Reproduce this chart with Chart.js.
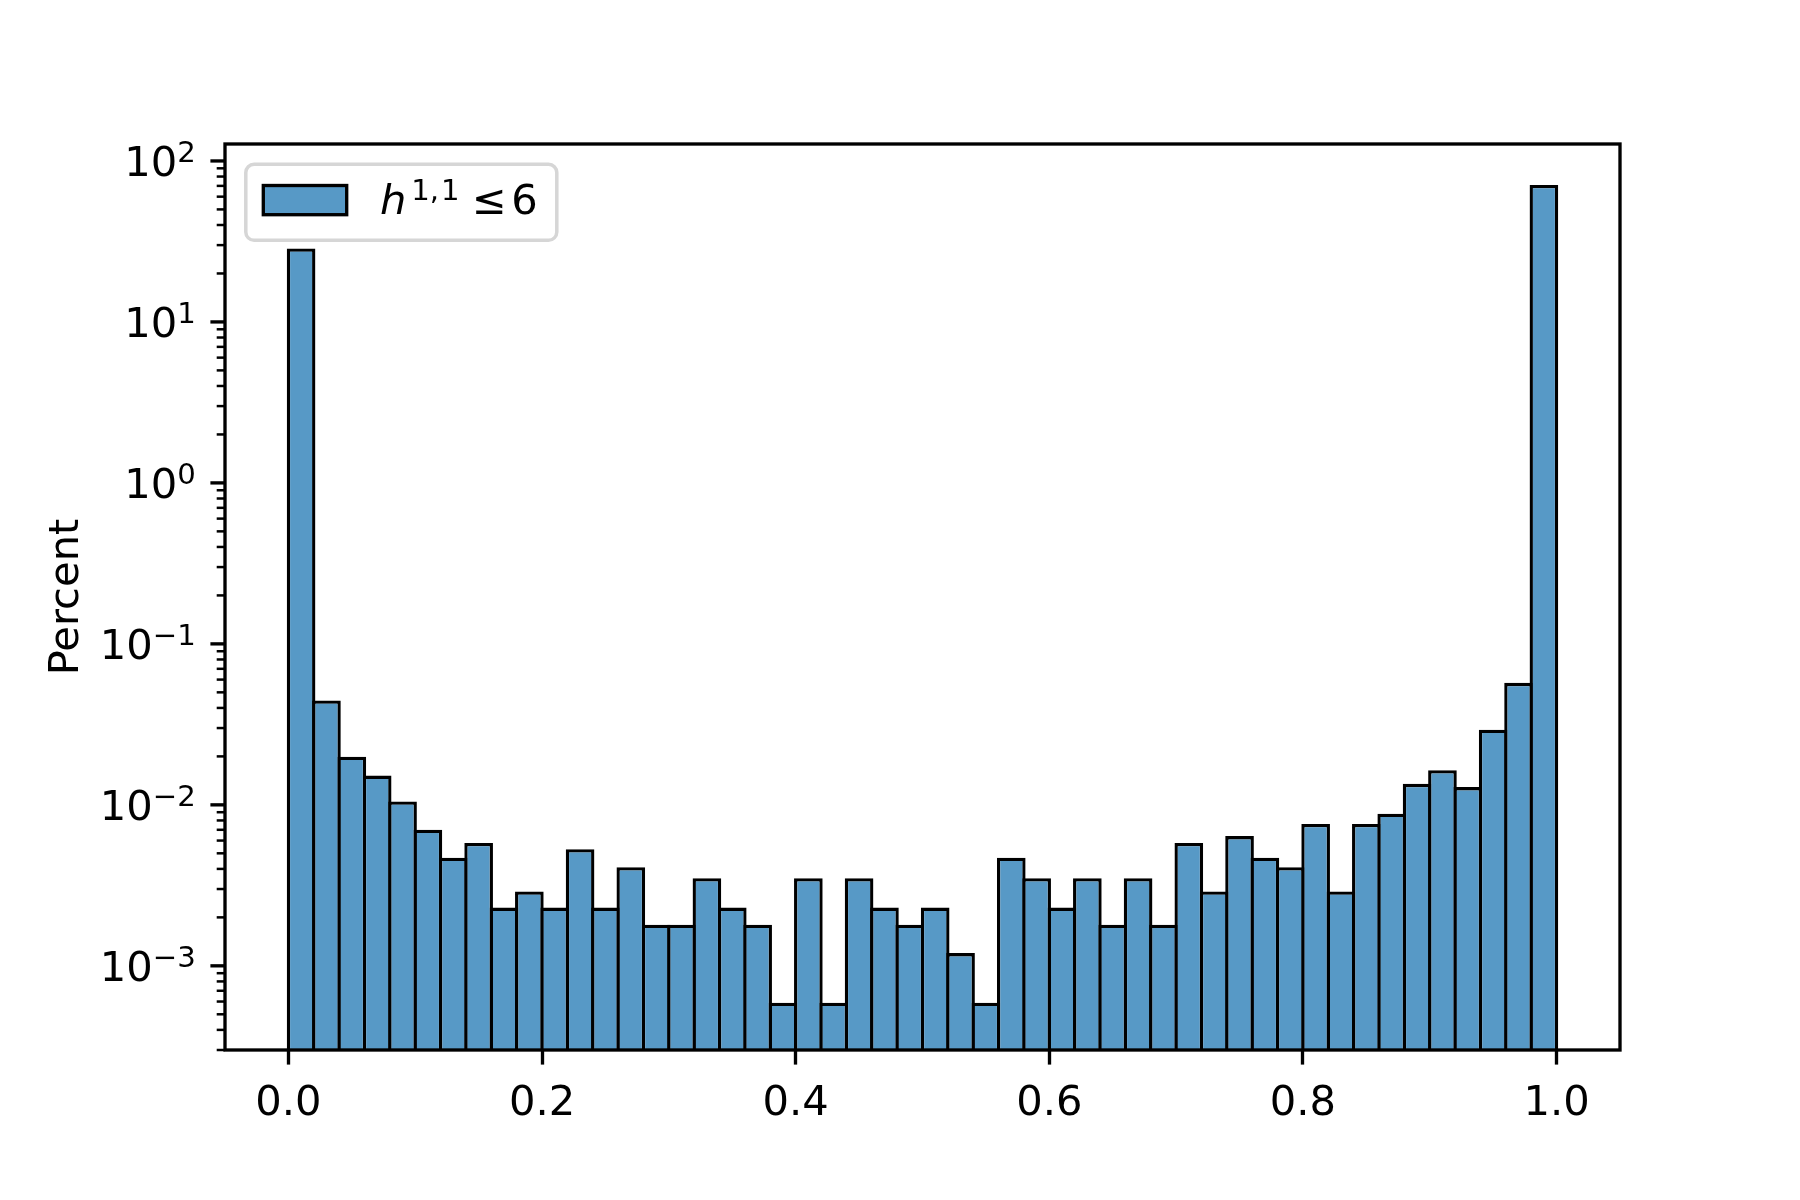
<!DOCTYPE html>
<html>
<head>
<meta charset="utf-8">
<script src="https://cdn.jsdelivr.net/npm/chart.js@4.4.1/dist/chart.umd.min.js"></script>
<style>
  html, body { margin: 0; padding: 0; background: #fff; }
  canvas { display: block; }
</style>
</head>
<body>
<canvas id="hist" width="1800" height="1200" style="width:1800px;height:1200px"></canvas>
<script>
// histogram bins (edges) and the percent in each bin
const binEdges = [
    0.00, 0.02, 0.04, 0.06, 0.08, 0.10, 0.12, 0.14, 0.16, 0.18,
    0.20, 0.22, 0.24, 0.26, 0.28, 0.30, 0.32, 0.34, 0.36, 0.38,
    0.40, 0.42, 0.44, 0.46, 0.48, 0.50, 0.52, 0.54, 0.56, 0.58,
    0.60, 0.62, 0.64, 0.66, 0.68, 0.70, 0.72, 0.74, 0.76, 0.78,
    0.80, 0.82, 0.84, 0.86, 0.88, 0.90, 0.92, 0.94, 0.96, 0.98, 1.00
];
const percentValues = [
    28.6, 0.0445, 0.0199, 0.0152, 0.0105, 0.0070, 0.0047, 0.0058, 0.0023, 0.0029,
    0.0023, 0.0053, 0.0023, 0.0041, 0.0018, 0.0018, 0.0035, 0.0023, 0.0018, 0.00059,
    0.0035, 0.00059, 0.0035, 0.0023, 0.0018, 0.0023, 0.0012, 0.00059, 0.0047, 0.0035,
    0.0023, 0.0035, 0.0018, 0.0035, 0.0018, 0.0058, 0.0029, 0.0064, 0.0047, 0.0041,
    0.0076, 0.0029, 0.0076, 0.0088, 0.0135, 0.0164, 0.0129, 0.0293, 0.0573, 71.0
];
const xTicks = [0.0, 0.2, 0.4, 0.6, 0.8, 1.0];
const yMajorExps = [-3, -2, -1, 0, 1, 2];

const FONT = "'DejaVu Sans'";
const FS = 41.67;          // 10pt at 300 dpi
const BAR_COLOR = '#5799c6';

// matplotlib style autoscale on a log axis: 5% margin in log space
const logMin = Math.log10(Math.min(...percentValues));
const logMax = Math.log10(Math.max(...percentValues));
const logPad = (logMax - logMin) * 0.05;
const yMin = Math.pow(10, logMin - logPad);
const yMax = Math.pow(10, logMax + logPad);

const points = percentValues.map((v, i) => ({ x: (binEdges[i] + binEdges[i + 1]) / 2, y: v }));

function supText(n) {
    return (n < 0 ? '\u2212' : '') + Math.abs(n);
}

const axesDecor = {
    id: 'axesDecor',
    afterDraw(chart) {
        const ctx = chart.ctx;
        const a = chart.chartArea;
        const ys = chart.scales.y;
        ctx.save();

        // y ticks: majors at powers of ten, minors at 2..9
        ctx.strokeStyle = '#000';
        for (let e = -4; e <= 2; e++) {
            for (let m = 1; m <= 9; m++) {
                const v = m * Math.pow(10, e);
                if (v < ys.min || v > ys.max) continue;
                const py = ys.getPixelForValue(v);
                const major = m === 1;
                ctx.lineWidth = major ? 3.33 : 2.5;
                ctx.beginPath();
                ctx.moveTo(a.left, py);
                ctx.lineTo(a.left - (major ? 14.6 : 8.3), py);
                ctx.stroke();
            }
        }

        // y tick labels 10^n
        ctx.fillStyle = '#000';
        ctx.textBaseline = 'alphabetic';
        ctx.textAlign = 'left';
        const right = a.left - 14.6 - 14.6;
        for (const e of yMajorExps) {
            const py = ys.getPixelForValue(Math.pow(10, e));
            ctx.font = FS + 'px ' + FONT;
            const baseW = ctx.measureText('10').width;
            const ex = supText(e);
            ctx.font = (FS * 0.7) + 'px ' + FONT;
            const expW = ctx.measureText(ex).width;
            const x0 = right - baseW - expW;
            ctx.font = FS + 'px ' + FONT;
            ctx.fillText('10', x0, py + 15.5);
            ctx.font = (FS * 0.7) + 'px ' + FONT;
            ctx.fillText(ex, x0 + baseW, py + 15.5 - 14);
        }

        // y axis title
        ctx.save();
        ctx.translate(78, (a.top + a.bottom) / 2);
        ctx.rotate(-Math.PI / 2);
        ctx.textAlign = 'center';
        ctx.font = FS + 'px ' + FONT;
        ctx.fillText('Percent', 0, 0);
        ctx.restore();

        // spines
        ctx.lineWidth = 3.33;
        ctx.strokeStyle = '#000';
        ctx.strokeRect(a.left, a.top, a.right - a.left, a.bottom - a.top);

        // legend
        const bx = a.left + 20.8, by = a.top + 20.3, bw = 311, bh = 76, r = 8.3;
        ctx.beginPath();
        ctx.moveTo(bx + r, by);
        ctx.arcTo(bx + bw, by, bx + bw, by + bh, r);
        ctx.arcTo(bx + bw, by + bh, bx, by + bh, r);
        ctx.arcTo(bx, by + bh, bx, by, r);
        ctx.arcTo(bx, by, bx + bw, by, r);
        ctx.closePath();
        ctx.fillStyle = 'rgba(255,255,255,0.8)';
        ctx.fill();
        ctx.lineWidth = 3.5;
        ctx.strokeStyle = '#d6d6d6';
        ctx.stroke();

        ctx.fillStyle = BAR_COLOR;
        ctx.fillRect(bx + 17.5, by + 21.2, 83.4, 29.2);
        ctx.lineWidth = 3.33;
        ctx.strokeStyle = '#000';
        ctx.strokeRect(bx + 17.5, by + 21.2, 83.4, 29.2);

        // legend label: h^{1,1} <= 6
        const base = by + 49.3;
        ctx.fillStyle = '#000';
        const put = (txt, font, inkLeft, baseline) => {
            ctx.font = font;
            const m = ctx.measureText(txt);
            ctx.fillText(txt, inkLeft + m.actualBoundingBoxLeft, baseline);
        };
        const supFont = (FS * 0.7) + 'px ' + FONT;
        put('h', 'italic ' + FS + 'px ' + FONT, bx + 135.2, base);
        put('1', supFont, bx + 168.5, base - 14);
        put(',', supFont, bx + 186, base - 14);
        put('1', supFont, bx + 198.2, base - 14);
        put('\u2264', FS + 'px ' + FONT, bx + 230.2, base);
        put('6', FS + 'px ' + FONT, bx + 267.5, base);

        ctx.restore();
    }
};

const ctx = document.getElementById('hist').getContext('2d');
new Chart(ctx, {
    type: 'bar',
    data: {
        datasets: [{
            label: 'h^{1,1} <= 6',
            data: points,
            backgroundColor: BAR_COLOR,
            borderColor: '#000',
            borderWidth: { top: 3.33, left: 3.33, right: 3.33, bottom: 0 },
            borderSkipped: 'start',
            barPercentage: 1.13,
            categoryPercentage: 1.0
        }]
    },
    options: {
        responsive: false,
        animation: false,
        devicePixelRatio: 1,
        layout: { padding: { left: 0, top: 144, right: 180, bottom: 0 } },
        plugins: { legend: { display: false }, tooltip: { enabled: false } },
        scales: {
            x: {
                type: 'linear',
                min: -0.05,
                max: 1.05,
                offset: false,
                grid: { display: true, offset: false, drawOnChartArea: false, drawTicks: true, tickLength: 14.6, tickWidth: 3.33, tickColor: '#000' },
                border: { display: false },
                ticks: {
                    color: '#000',
                    padding: 14.6,
                    maxRotation: 0,
                    autoSkip: false,
                    font: { family: FONT, size: FS },
                    callback: v => v.toFixed(1)
                },
                afterBuildTicks: s => { s.ticks = xTicks.map(v => ({ value: v })); },
                afterFit: s => { s.height = 150; }
            },
            y: {
                type: 'logarithmic',
                min: yMin,
                max: yMax,
                grid: { display: false },
                border: { display: false },
                ticks: { display: false },
                afterFit: s => { s.width = 225; }
            }
        }
    },
    plugins: [axesDecor]
});
</script>
</body>
</html>
